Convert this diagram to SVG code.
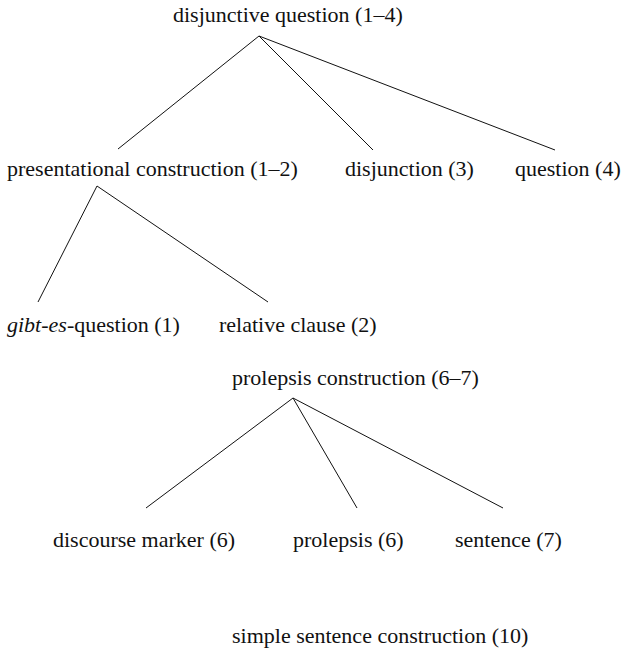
<svg xmlns="http://www.w3.org/2000/svg" width="621" height="650" viewBox="0 0 621 650">
<style>
text{font-family:"Liberation Serif","Times New Roman",serif;font-size:22px;fill:#111}
.e{stroke:#111;stroke-width:1;fill:none}
</style>
<rect width="621" height="650" fill="#fff"/>
<g id="edges">
<line class="e" x1="259" y1="36" x2="118" y2="149"/>
<line class="e" x1="259" y1="36" x2="373" y2="150"/>
<line class="e" x1="259" y1="36" x2="555" y2="150"/>
<line class="e" x1="97" y1="186" x2="38" y2="302"/>
<line class="e" x1="97" y1="186" x2="268" y2="302"/>
<line class="e" x1="293" y1="398" x2="146" y2="508"/>
<line class="e" x1="293" y1="398" x2="357" y2="508"/>
<line class="e" x1="293" y1="398" x2="503" y2="508"/>
</g>
<g id="n-disjq"><text x="173" y="22">disjunctive question (1–4)</text></g>
<g id="n-pres"><text x="7" y="176">presentational construction (1–2)</text></g>
<g id="n-disj"><text x="345" y="176">disjunction (3)</text></g>
<g id="n-q"><text x="515" y="176">question (4)</text></g>
<g id="n-gibt"><text x="7" y="332"><tspan font-style="italic">gibt-es</tspan>-question (1)</text></g>
<g id="n-rel"><text x="219" y="332">relative clause (2)</text></g>
<g id="n-prol"><text x="232" y="385">prolepsis construction (6–7)</text></g>
<g id="n-dm"><text x="53" y="547">discourse marker (6)</text></g>
<g id="n-p6"><text x="293" y="547">prolepsis (6)</text></g>
<g id="n-s7"><text x="455" y="547">sentence (7)</text></g>
<g id="n-simple"><text x="232" y="643">simple sentence construction (10)</text></g>
</svg>
